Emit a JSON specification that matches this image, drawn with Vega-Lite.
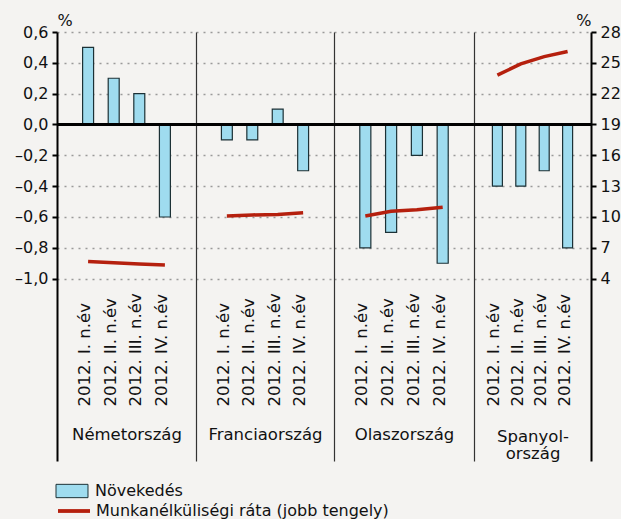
{
  "$schema": "https://vega.github.io/schema/vega-lite/v6.json",
  "background": "#f4f3f1",
  "padding": {"left": 14, "top": 12, "right": 0, "bottom": 0},
  "bounds": "flush",
  "config": {
    "font": "DejaVu Sans",
    "view": {"stroke": null},
    "concat": {"spacing": 0},
    "axis": {"labelColor": "#111", "titleColor": "#111", "titleFontWeight": "normal"}
  },
  "datasets": {
    "d": [
      {"orszag": "Németország", "negyedev": "2012. I. n.év", "novekedes": 0.5, "munkanelkuliseg": 5.67},
      {"orszag": "Németország", "negyedev": "2012. II. n.év", "novekedes": 0.3, "munkanelkuliseg": 5.55},
      {"orszag": "Németország", "negyedev": "2012. III. n.év", "novekedes": 0.2, "munkanelkuliseg": 5.43},
      {"orszag": "Németország", "negyedev": "2012. IV. n.év", "novekedes": -0.6, "munkanelkuliseg": 5.33},
      {"orszag": "Franciaország", "negyedev": "2012. I. n.év", "novekedes": -0.1, "munkanelkuliseg": 10.1},
      {"orszag": "Franciaország", "negyedev": "2012. II. n.év", "novekedes": -0.1, "munkanelkuliseg": 10.2},
      {"orszag": "Franciaország", "negyedev": "2012. III. n.év", "novekedes": 0.1, "munkanelkuliseg": 10.25},
      {"orszag": "Franciaország", "negyedev": "2012. IV. n.év", "novekedes": -0.3, "munkanelkuliseg": 10.4},
      {"orszag": "Olaszország", "negyedev": "2012. I. n.év", "novekedes": -0.8, "munkanelkuliseg": 10.1},
      {"orszag": "Olaszország", "negyedev": "2012. II. n.év", "novekedes": -0.7, "munkanelkuliseg": 10.55},
      {"orszag": "Olaszország", "negyedev": "2012. III. n.év", "novekedes": -0.2, "munkanelkuliseg": 10.7},
      {"orszag": "Olaszország", "negyedev": "2012. IV. n.év", "novekedes": -0.9, "munkanelkuliseg": 10.95},
      {"orszag": "Spanyolország", "negyedev": "2012. I. n.év", "novekedes": -0.4, "munkanelkuliseg": 23.8},
      {"orszag": "Spanyolország", "negyedev": "2012. II. n.év", "novekedes": -0.4, "munkanelkuliseg": 24.9},
      {"orszag": "Spanyolország", "negyedev": "2012. III. n.év", "novekedes": -0.3, "munkanelkuliseg": 25.6},
      {"orszag": "Spanyolország", "negyedev": "2012. IV. n.év", "novekedes": -0.8, "munkanelkuliseg": 26.1}
    ]
  },
  "hconcat": [
    {
      "width": 139, "height": 429,
      "data": {"name": "d"},
      "transform": [{"filter": "datum.orszag === 'Németország'"}],
      "layer": [
        {
          "mark": {"type": "bar", "stroke": "#1c3136", "strokeWidth": 1.2},
          "encoding": {
            "x": {"field": "negyedev", "type": "nominal", "sort": ["2012. I. n.év", "2012. II. n.év", "2012. III. n.év", "2012. IV. n.év"],
              "scale": {"type": "band", "paddingInner": 0.571, "paddingOuter": 1.264},
              "axis": {"title": "Németország", "labelAngle": -90, "labelAlign": "left", "labelBaseline": "middle", "labelPadding": -55, "labelOffset": -3, "ticks": false, "domain": false, "labelFontSize": 16.5, "titleFontSize": 16.5, "titleY": -22, "titleBaseline": "alphabetic", "labelLimit": 0, "labelOverlap": false}},
            "y": {"field": "novekedes", "type": "quantitative", "scale": {"domain": [-2.183, 0.6], "nice": false, "zero": false},
              "axis": {"orient": "left", "values": [-1, -0.8, -0.6, -0.4, -0.2, 0, 0.2, 0.4, 0.6],
                "labelExpr": "(datum.value < 0 ? '–' : '') + replace(format(abs(datum.value), '.1f'), '.', ',')",
                "grid": true, "gridDash": [2, 5], "gridColor": "#9a9a9a", "gridWidth": 1.5,
                "domain": true, "domainColor": "#000", "domainWidth": 2,
                "ticks": true, "tickColor": "#000", "tickWidth": 2, "tickSize": 5,
                "labelFontSize": 16, "labelPadding": 4,
                "title": "%", "titleAngle": 0, "titleX": 0, "titleY": -7, "titleAlign": "left", "titleBaseline": "alphabetic", "titleFontSize": 16}},
            "fill": {"datum": "Növekedés", "scale": {"range": ["#9fdcef"]},
              "legend": {"title": null, "orient": "none", "legendX": 1, "legendY": 445, "symbolType": "M-1.2,-0.5H1.2V0.5H-1.2Z", "symbolSize": 711, "symbolStrokeColor": "#1c3136", "symbolStrokeWidth": 1, "labelFontSize": 16, "labelColor": "#111", "labelOffset": 9, "labelLimit": 0}}
          }
        },
        {
          "mark": {"type": "rule", "color": "#000", "strokeWidth": 2.5},
          "encoding": {
            "y": {"datum": 0, "type": "quantitative", "scale": {"domain": [-2.183, 0.6], "nice": false, "zero": false}, "axis": null}
          }
        },
        {
          "mark": {"type": "line", "strokeWidth": 3.5},
          "encoding": {
            "x": {"field": "negyedev", "type": "nominal", "sort": ["2012. I. n.év", "2012. II. n.év", "2012. III. n.év", "2012. IV. n.év"]},
            "y": {"field": "munkanelkuliseg", "type": "quantitative", "scale": {"domain": [-13.745, 28], "nice": false, "zero": false}, "axis": null},
            "stroke": {"datum": "Munkanélküliségi ráta (jobb tengely)", "scale": {"range": ["#b5200e"]},
              "legend": {"title": null, "orient": "none", "legendX": -1, "legendY": 461, "symbolType": "stroke", "symbolSize": 1024, "symbolStrokeWidth": 3.8, "labelFontSize": 16, "labelColor": "#111", "labelOffset": 4, "labelLimit": 0}}
          }
        }
      ],
      "resolve": {"scale": {"y": "independent"}}
    },
    {
      "width": 138, "height": 429,
      "data": {"name": "d"},
      "transform": [{"filter": "datum.orszag === 'Franciaország'"}],
      "layer": [
        {
          "mark": {"type": "bar", "stroke": "#1c3136", "strokeWidth": 1.2},
          "encoding": {
            "x": {"field": "negyedev", "type": "nominal", "sort": ["2012. I. n.év", "2012. II. n.év", "2012. III. n.év", "2012. IV. n.év"],
              "scale": {"type": "band", "paddingInner": 0.571, "paddingOuter": 1.264},
              "axis": {"title": "Franciaország", "labelAngle": -90, "labelAlign": "left", "labelBaseline": "middle", "labelPadding": -55, "labelOffset": -3, "ticks": false, "domain": false, "labelFontSize": 16.5, "titleFontSize": 16.5, "titleY": -22, "titleBaseline": "alphabetic", "labelLimit": 0, "labelOverlap": false}},
            "y": {"field": "novekedes", "type": "quantitative", "scale": {"domain": [-2.183, 0.6], "nice": false, "zero": false},
              "axis": {"orient": "left", "values": [-1, -0.8, -0.6, -0.4, -0.2, 0, 0.2, 0.4, 0.6],
                "grid": true, "gridDash": [2, 5], "gridColor": "#9a9a9a", "gridWidth": 1.5,
                "domain": true, "domainColor": "#333", "domainWidth": 1.2, "ticks": false, "labels": false, "title": null}},
            "fill": {"datum": "Növekedés", "scale": {"range": ["#9fdcef"]},
              "legend": {"title": null, "orient": "none", "legendX": 1, "legendY": 445, "symbolType": "M-1.2,-0.5H1.2V0.5H-1.2Z", "symbolSize": 711, "symbolStrokeColor": "#1c3136", "symbolStrokeWidth": 1, "labelFontSize": 16, "labelColor": "#111", "labelOffset": 9, "labelLimit": 0}}
          }
        },
        {
          "mark": {"type": "rule", "color": "#000", "strokeWidth": 2.5},
          "encoding": {
            "y": {"datum": 0, "type": "quantitative", "scale": {"domain": [-2.183, 0.6], "nice": false, "zero": false}, "axis": null}
          }
        },
        {
          "mark": {"type": "line", "strokeWidth": 3.5},
          "encoding": {
            "x": {"field": "negyedev", "type": "nominal", "sort": ["2012. I. n.év", "2012. II. n.év", "2012. III. n.év", "2012. IV. n.év"]},
            "y": {"field": "munkanelkuliseg", "type": "quantitative", "scale": {"domain": [-13.745, 28], "nice": false, "zero": false}, "axis": null},
            "stroke": {"datum": "Munkanélküliségi ráta (jobb tengely)", "scale": {"range": ["#b5200e"]},
              "legend": {"title": null, "orient": "none", "legendX": -1, "legendY": 461, "symbolType": "stroke", "symbolSize": 1024, "symbolStrokeWidth": 3.8, "labelFontSize": 16, "labelColor": "#111", "labelOffset": 4, "labelLimit": 0}}
          }
        }
      ],
      "resolve": {"scale": {"y": "independent"}}
    },
    {
      "width": 140, "height": 429,
      "data": {"name": "d"},
      "transform": [{"filter": "datum.orszag === 'Olaszország'"}],
      "layer": [
        {
          "mark": {"type": "bar", "stroke": "#1c3136", "strokeWidth": 1.2},
          "encoding": {
            "x": {"field": "negyedev", "type": "nominal", "sort": ["2012. I. n.év", "2012. II. n.év", "2012. III. n.év", "2012. IV. n.év"],
              "scale": {"type": "band", "paddingInner": 0.571, "paddingOuter": 1.264},
              "axis": {"title": "Olaszország", "labelAngle": -90, "labelAlign": "left", "labelBaseline": "middle", "labelPadding": -55, "labelOffset": -3, "ticks": false, "domain": false, "labelFontSize": 16.5, "titleFontSize": 16.5, "titleY": -22, "titleBaseline": "alphabetic", "labelLimit": 0, "labelOverlap": false}},
            "y": {"field": "novekedes", "type": "quantitative", "scale": {"domain": [-2.183, 0.6], "nice": false, "zero": false},
              "axis": {"orient": "left", "values": [-1, -0.8, -0.6, -0.4, -0.2, 0, 0.2, 0.4, 0.6],
                "grid": true, "gridDash": [2, 5], "gridColor": "#9a9a9a", "gridWidth": 1.5,
                "domain": true, "domainColor": "#333", "domainWidth": 1.2, "ticks": false, "labels": false, "title": null}},
            "fill": {"datum": "Növekedés", "scale": {"range": ["#9fdcef"]},
              "legend": {"title": null, "orient": "none", "legendX": 1, "legendY": 445, "symbolType": "M-1.2,-0.5H1.2V0.5H-1.2Z", "symbolSize": 711, "symbolStrokeColor": "#1c3136", "symbolStrokeWidth": 1, "labelFontSize": 16, "labelColor": "#111", "labelOffset": 9, "labelLimit": 0}}
          }
        },
        {
          "mark": {"type": "rule", "color": "#000", "strokeWidth": 2.5},
          "encoding": {
            "y": {"datum": 0, "type": "quantitative", "scale": {"domain": [-2.183, 0.6], "nice": false, "zero": false}, "axis": null}
          }
        },
        {
          "mark": {"type": "line", "strokeWidth": 3.5},
          "encoding": {
            "x": {"field": "negyedev", "type": "nominal", "sort": ["2012. I. n.év", "2012. II. n.év", "2012. III. n.év", "2012. IV. n.év"]},
            "y": {"field": "munkanelkuliseg", "type": "quantitative", "scale": {"domain": [-13.745, 28], "nice": false, "zero": false}, "axis": null},
            "stroke": {"datum": "Munkanélküliségi ráta (jobb tengely)", "scale": {"range": ["#b5200e"]},
              "legend": {"title": null, "orient": "none", "legendX": -1, "legendY": 461, "symbolType": "stroke", "symbolSize": 1024, "symbolStrokeWidth": 3.8, "labelFontSize": 16, "labelColor": "#111", "labelOffset": 4, "labelLimit": 0}}
          }
        }
      ],
      "resolve": {"scale": {"y": "independent"}}
    },
    {
      "width": 117, "height": 429,
      "data": {"name": "d"},
      "transform": [{"filter": "datum.orszag === 'Spanyolország'"}],
      "layer": [
        {
          "mark": {"type": "bar", "stroke": "#1c3136", "strokeWidth": 1.2},
          "encoding": {
            "x": {"field": "negyedev", "type": "nominal", "sort": ["2012. I. n.év", "2012. II. n.év", "2012. III. n.év", "2012. IV. n.év"],
              "scale": {"type": "band", "paddingInner": 0.573, "paddingOuter": 0.786},
              "axis": {"title": ["Spanyol-", "ország"], "titleLineHeight": 17, "labelAngle": -90, "labelAlign": "left", "labelBaseline": "middle", "labelPadding": -55, "labelOffset": -3, "ticks": false, "domain": false, "labelFontSize": 16.5, "titleFontSize": 16.5, "titleY": -20, "titleBaseline": "alphabetic", "labelLimit": 0, "labelOverlap": false}},
            "y": {"field": "novekedes", "type": "quantitative", "scale": {"domain": [-2.183, 0.6], "nice": false, "zero": false},
              "axis": {"orient": "left", "values": [-1, -0.8, -0.6, -0.4, -0.2, 0, 0.2, 0.4, 0.6],
                "grid": true, "gridDash": [2, 5], "gridColor": "#9a9a9a", "gridWidth": 1.5,
                "domain": true, "domainColor": "#333", "domainWidth": 1.2, "ticks": false, "labels": false, "title": null}},
            "fill": {"datum": "Növekedés", "scale": {"range": ["#9fdcef"]},
              "legend": {"title": null, "orient": "none", "legendX": 1, "legendY": 445, "symbolType": "M-1.2,-0.5H1.2V0.5H-1.2Z", "symbolSize": 711, "symbolStrokeColor": "#1c3136", "symbolStrokeWidth": 1, "labelFontSize": 16, "labelColor": "#111", "labelOffset": 9, "labelLimit": 0}}
          }
        },
        {
          "mark": {"type": "rule", "color": "#000", "strokeWidth": 2.5},
          "encoding": {
            "y": {"datum": 0, "type": "quantitative", "scale": {"domain": [-2.183, 0.6], "nice": false, "zero": false}, "axis": null}
          }
        },
        {
          "mark": {"type": "line", "strokeWidth": 3.5},
          "encoding": {
            "x": {"field": "negyedev", "type": "nominal", "sort": ["2012. I. n.év", "2012. II. n.év", "2012. III. n.év", "2012. IV. n.év"]},
            "y": {"field": "munkanelkuliseg", "type": "quantitative", "scale": {"domain": [-13.745, 28], "nice": false, "zero": false},
              "axis": {"orient": "right", "values": [4, 7, 10, 13, 16, 19, 22, 25, 28],
                "domain": true, "domainColor": "#000", "domainWidth": 2,
                "ticks": true, "tickColor": "#000", "tickWidth": 2, "tickSize": 5,
                "labelFontSize": 16, "labelPadding": 4, "grid": false,
                "title": "%", "titleAngle": 0, "titleX": 0, "titleY": -7, "titleAlign": "right", "titleBaseline": "alphabetic", "titleFontSize": 16}},
            "stroke": {"datum": "Munkanélküliségi ráta (jobb tengely)", "scale": {"range": ["#b5200e"]},
              "legend": {"title": null, "orient": "none", "legendX": -1, "legendY": 461, "symbolType": "stroke", "symbolSize": 1024, "symbolStrokeWidth": 3.8, "labelFontSize": 16, "labelColor": "#111", "labelOffset": 4, "labelLimit": 0}}
          }
        }
      ],
      "resolve": {"scale": {"y": "independent"}}
    }
  ]
}
